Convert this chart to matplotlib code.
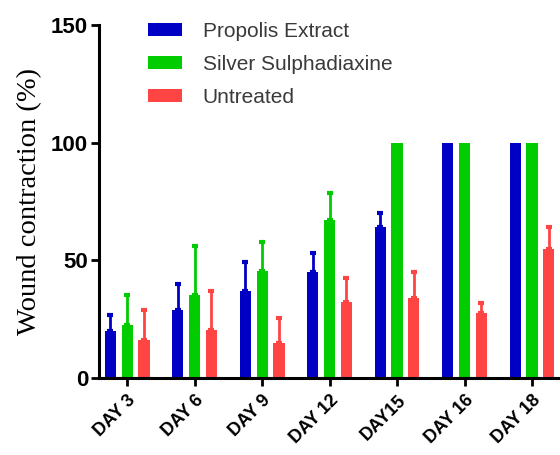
import numpy as np
import matplotlib.pyplot as plt

days = ['DAY 3', 'DAY 6', 'DAY 9', 'DAY 12', 'DAY15', 'DAY 16', 'DAY 18']
propolis = [20, 29, 37, 45, 64, 100, 100]
propolis_err = [7, 11, 12.5, 8, 6, 0, 0]
silver = [22.5, 35.5, 45.5, 67, 100, 100, 100]
silver_err = [13, 20.5, 12.5, 11.5, 0, 0, 0]
untreated = [16, 20.5, 15, 32.5, 34, 27.5, 55]
untreated_err = [13, 16.5, 10.5, 10, 11, 4.5, 9]

series = [
    ('Propolis Extract', propolis, propolis_err, '#0000c4'),
    ('Silver Sulphadiaxine', silver, silver_err, '#00cc00'),
    ('Untreated', untreated, untreated_err, '#ff4444'),
]

fig = plt.figure(figsize=(5.6, 4.55), dpi=100)
ax = fig.add_axes([0.177, 0.169, 0.823, 0.776])

x = np.arange(len(days))
offs = [-0.25, 0, 0.25]
w = 0.165
for (name, vals, errs, col), dx in zip(series, offs):
    ax.bar(x + dx, vals, w, color=col, label=name, zorder=2)
    errs = np.array(errs)
    keep = errs > 0
    ax.errorbar((x + dx)[keep], np.array(vals)[keep],
                yerr=[np.zeros(keep.sum()), errs[keep]], fmt='none',
                ecolor=col, elinewidth=2, capsize=2.5, capthick=3, zorder=2)

ax.set_xlim(-0.415, 6.415)
ax.set_ylim(0, 150)
ax.set_yticks([0, 50, 100, 150])
ax.set_xticks(x)
ax.set_xticklabels(days, rotation=45, ha='right', rotation_mode='anchor',
                   fontsize=13, fontweight='bold', family='Liberation Sans')
for lab in ax.get_yticklabels():
    lab.set_fontsize(16)
    lab.set_family('Liberation Sans')
    lab.set_fontweight('bold')

ax.spines['top'].set_visible(False)
ax.spines['right'].set_visible(False)
ax.spines['left'].set_linewidth(2.2)
ax.spines['bottom'].set_linewidth(2.2)
ax.tick_params(axis='both', width=2, length=6, direction='out', pad=2)
ax.tick_params(axis='x', pad=4)

ax.set_ylabel('Wound contraction (%)', family='Liberation Serif', fontsize=20.5, labelpad=6)

leg = ax.legend(loc='upper left', bbox_to_anchor=(0.087, 1.033), frameon=False,
                handlelength=1.65, handleheight=0.55, handletextpad=1.0,
                labelspacing=0.68, borderaxespad=0,
                prop={'family': 'Liberation Sans', 'size': 15})
for t in leg.get_texts():
    t.set_color('#3a3a3a')

fig.savefig('out.png', dpi=100)
